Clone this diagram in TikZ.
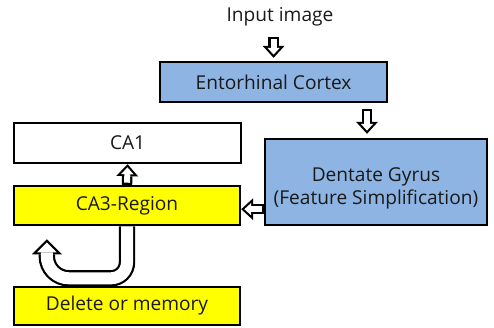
\documentclass[tikz,border=0pt]{standalone}
\usepackage{fontspec}
\setmainfont{Open Sans}
\usetikzlibrary{arrows.meta, positioning, calc, backgrounds}

\definecolor{cortexblue}{HTML}{8DB4E2}
\definecolor{regionyellow}{HTML}{FFFF00}

% outlined block arrow: black pass, then white pass on top
\newcommand{\hollowarrow}[3][hollow]{%
  \draw[#1 outer] #2 -- #3;
  \draw[#1 inner] #2 -- #3;}

\begin{document}
\begin{tikzpicture}[font=\fontsize{13.6}{16.4}\selectfont, text=black!90,
    box/.style={draw, line width=1.7pt, inner sep=0pt, align=center},
    hollow outer/.style={line width=2.6mm, -{Triangle[width=5.5mm, length=3mm, line width=0pt]}},
    hollow inner/.style={white, line width=1.5mm, shorten <=0.55mm, shorten >=0.8mm,
        -{Triangle[width=3.1mm, length=1.7mm, line width=0pt]}},
    loop outer/.style={line width=4.1mm, -{Triangle[width=7.5mm, length=3.75mm, line width=0pt]}},
    loop inner/.style={white, line width=3mm, shorten >=0.8mm,
        -{Triangle[width=4.9mm, length=2.45mm, line width=0pt]}}]
    \useasboundingbox (0,0) rectangle (12.35,-8.2);

    \node (in) at (7.0,-0.425) {Input image};
    \node[box, fill=cortexblue, minimum width=5.675cm, minimum height=1cm] (ec) at (6.84,-2.05) {Entorhinal Cortex};
    \node[box, fill=white, minimum width=5.675cm, minimum height=1cm] (ca1) at (3.19,-3.575) {CA1};
    \node[box, fill=regionyellow, minimum width=5.65cm, minimum height=0.975cm] (ca3) at (3.175,-5.14) {CA3-Region};
    \node[box, fill=cortexblue, minimum width=5.55cm, minimum height=2.15cm,
        label={[align=center, yshift=-1.5mm]center:Dentate Gyrus\\(Feature Simplification)}] (dg) at (9.4,-4.55) {};
    \node[box, fill=regionyellow, minimum width=5.65cm, minimum height=0.95cm] (del) at (3.175,-7.65) {Delete or memory};

    \coordinate (loop) at ($(ca3.south west)+(0.85,-0.325)$);

    \begin{scope}[on background layer]
        \hollowarrow{([yshift=-1.5mm]in.south -| ec.north)}{([yshift=0.75mm]ec.north)}
        \hollowarrow{($(dg.north |- ec.south)+(-0.225,-0.15)$)}{($(dg.north)+(-0.225,0.1)$)}
        \hollowarrow{(ca3.north)}{(ca1.south)}
        \hollowarrow{([yshift=-0.9mm]ca3.east -| dg.west)}{([yshift=-0.9mm]ca3.east)}
        % feedback loop under CA3
        \draw[loop outer] (ca3.south) [rounded corners=4mm] -- ++(0,-1.3) [rounded corners=5.5mm] -| (loop);
        \draw[loop inner] (ca3.south) [rounded corners=4mm] -- ++(0,-1.3) [rounded corners=5.5mm] -| (loop);
    \end{scope}
\end{tikzpicture}
\end{document}
